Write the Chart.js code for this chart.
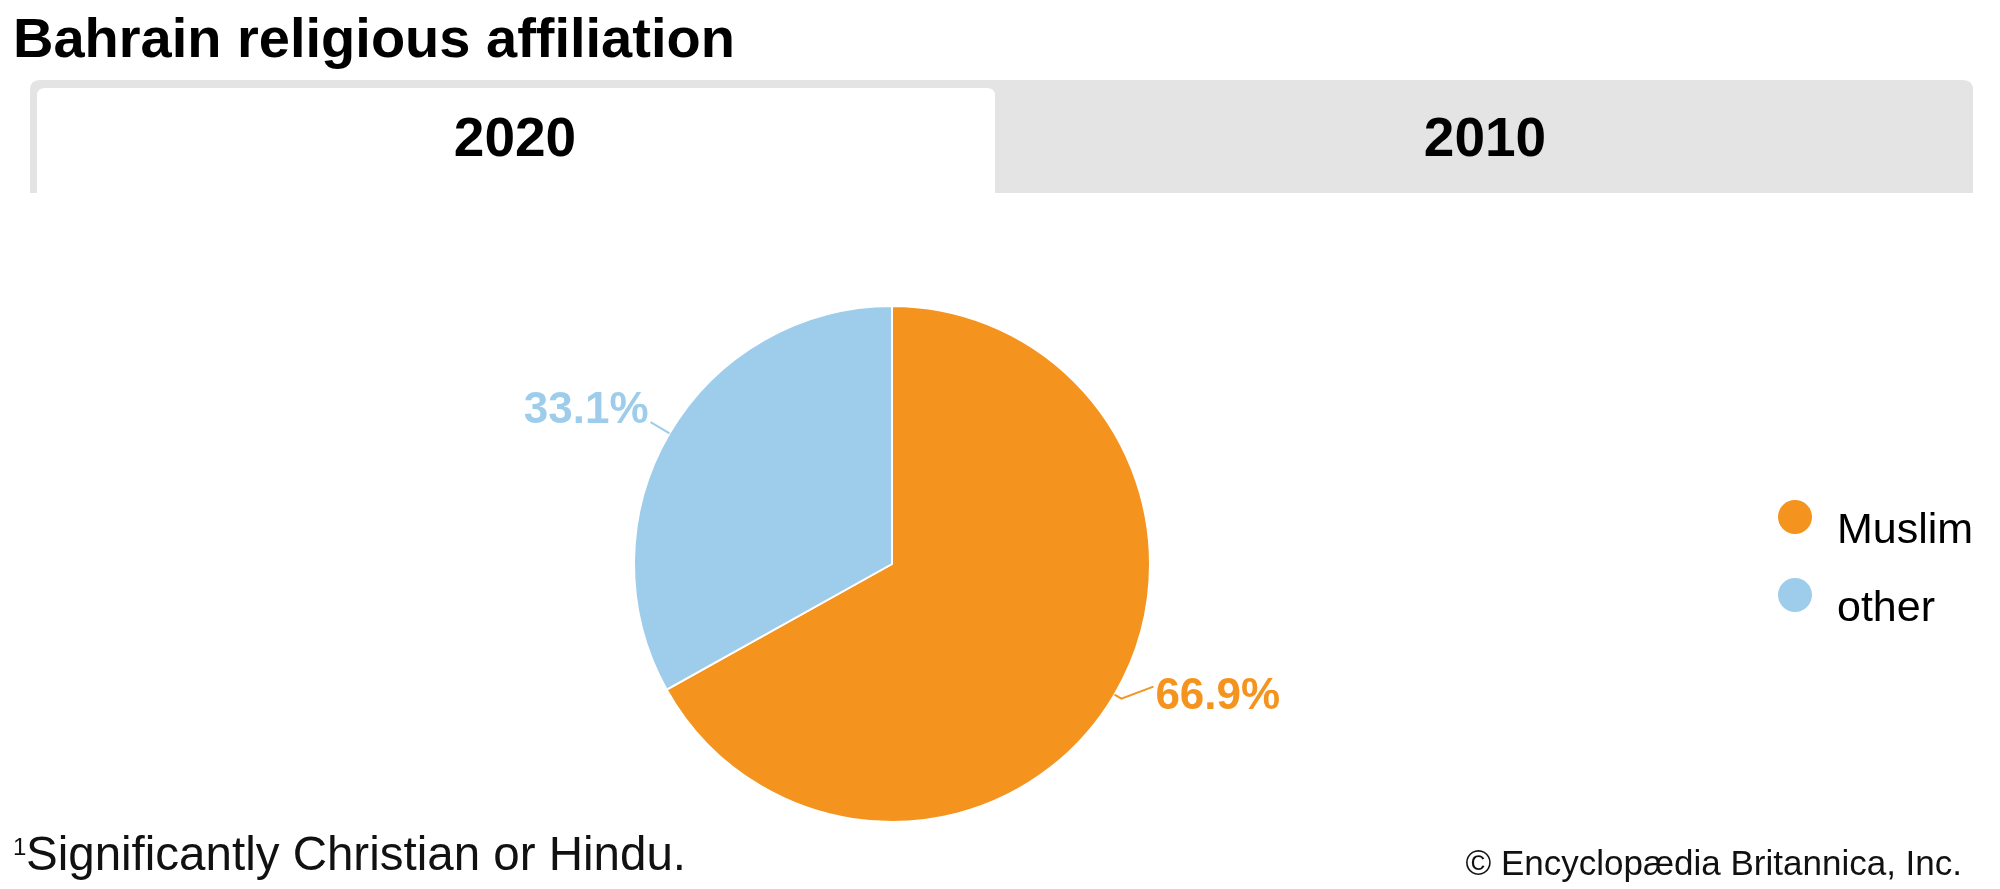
<!DOCTYPE html>
<html>
<head>
<meta charset="utf-8">
<script src="https://cdn.jsdelivr.net/npm/chart.js@4/dist/chart.umd.min.js"></script>
<style>
html,body{margin:0;padding:0;background:#fff;width:2000px;height:889px;overflow:hidden;}
#c{position:absolute;left:0;top:0;width:2000px;height:889px;}
</style>
</head>
<body>
<canvas id="c" width="2000" height="889"></canvas>
<script>
const title = "Bahrain religious affiliation";
const tabs = ["2020", "2010"];
const categories = ["Muslim", "other"];
const values = [66.9, 33.1];
const labelsText = ["66.9%", "33.1%"];
const colors = ["#F4941F", "#9ECDEC"];
const footnote = "Significantly Christian or Hindu.";
const credit = "\u00A9 Encyclopædia Britannica, Inc.";

const FONT = '"Liberation Sans", Arial, sans-serif';

function roundTop(ctx, x, y, w, h, r) {
  ctx.beginPath();
  ctx.moveTo(x, y + h);
  ctx.lineTo(x, y + r);
  ctx.quadraticCurveTo(x, y, x + r, y);
  ctx.lineTo(x + w - r, y);
  ctx.quadraticCurveTo(x + w, y, x + w, y + r);
  ctx.lineTo(x + w, y + h);
  ctx.closePath();
}

const frame = {
  id: 'frame',
  beforeDraw(chart) {
    const ctx = chart.ctx;
    ctx.save();
    ctx.fillStyle = '#fff';
    ctx.fillRect(0, 0, chart.width, chart.height);
    // title
    ctx.fillStyle = '#000';
    ctx.font = 'bold 56px ' + FONT;
    ctx.textAlign = 'left';
    ctx.textBaseline = 'alphabetic';
    ctx.fillText(title, 13, 57);
    // tabs
    ctx.fillStyle = '#E4E4E4';
    roundTop(ctx, 30, 80, 1943, 113, 10);
    ctx.fill();
    ctx.fillStyle = '#fff';
    roundTop(ctx, 37, 88, 958, 105, 8);
    ctx.fill();
    ctx.fillStyle = '#000';
    ctx.font = 'bold 55px ' + FONT;
    ctx.textAlign = 'center';
    ctx.fillText(tabs[0], 515, 156);
    ctx.fillText(tabs[1], 1485, 156);
    // footnote
    ctx.textAlign = 'left';
    ctx.font = '24px ' + FONT;
    ctx.fillStyle = '#111';
    ctx.fillText('1', 13, 855);
    ctx.font = '47.5px ' + FONT;
    ctx.fillText(footnote, 26, 870);
    ctx.textAlign = 'right';
    ctx.font = '35px ' + FONT;
    ctx.fillText(credit, 1962, 875);
    ctx.restore();
  }
};

const pieLabels = {
  id: 'pieLabels',
  afterDatasetsDraw(chart) {
    const ctx = chart.ctx;
    const meta = chart.getDatasetMeta(0);
    ctx.save();
    meta.data.forEach((arc, i) => {
      const p = arc.getProps(['x', 'y', 'startAngle', 'endAngle', 'outerRadius'], true);
      const mid = (p.startAngle + p.endAngle) / 2;
      const cx = Math.cos(mid), sy = Math.sin(mid);
      const ex = p.x + p.outerRadius * cx, ey = p.y + p.outerRadius * sy;
      ctx.strokeStyle = colors[i];
      ctx.lineWidth = 2;
      ctx.fillStyle = colors[i];
      ctx.font = 'bold 44px ' + FONT;
      ctx.textBaseline = 'alphabetic';
      ctx.beginPath();
      ctx.moveTo(ex, ey);
      if (cx >= 0) {
        const x1 = ex + 8 * cx, y1 = ey + 8 * sy;
        const x2 = x1 + 32, y2 = y1 - 12;
        ctx.lineTo(x1, y1);
        ctx.lineTo(x2, y2);
        ctx.stroke();
        ctx.textAlign = 'left';
        ctx.fillText(labelsText[i], x2 + 2, y2 + 22);
      } else {
        const x1 = ex + 22 * cx, y1 = ey + 22 * sy;
        ctx.lineTo(x1, y1);
        ctx.stroke();
        ctx.textAlign = 'right';
        ctx.fillText(labelsText[i], x1 - 2, y1 + 1);
      }
    });
    ctx.restore();
  }
};

const legendPlugin = {
  id: 'legendDots',
  afterDraw(chart) {
    const ctx = chart.ctx;
    ctx.save();
    categories.forEach((c, i) => {
      const y = 517 + i * 78;
      ctx.fillStyle = colors[i];
      ctx.beginPath();
      ctx.arc(1795, y, 17, 0, Math.PI * 2);
      ctx.fill();
      ctx.fillStyle = '#000';
      ctx.font = '43px ' + FONT;
      ctx.textAlign = 'left';
      ctx.textBaseline = 'alphabetic';
      ctx.fillText(c, 1837, y + 26);
    });
    ctx.restore();
  }
};

new Chart(document.getElementById('c'), {
  type: 'pie',
  data: {
    labels: categories,
    datasets: [{
      data: values,
      backgroundColor: colors,
      borderColor: '#fff',
      borderWidth: 2
    }]
  },
  options: {
    responsive: false,
    animation: false,
    layout: { padding: { top: 305, bottom: 66, left: 633, right: 849 } },
    plugins: {
      legend: { display: false },
      tooltip: { enabled: false },
      title: { display: false }
    }
  },
  plugins: [frame, pieLabels, legendPlugin]
});
</script>
</body>
</html>
